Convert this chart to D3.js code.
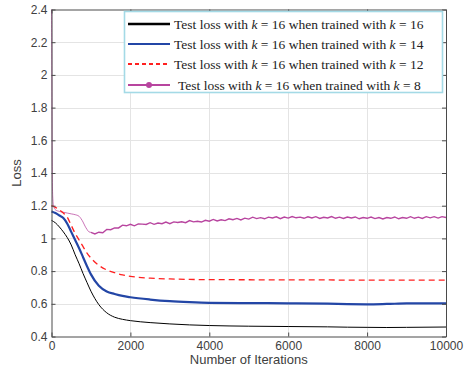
<!DOCTYPE html>
<html>
<head>
<meta charset="utf-8">
<script src="https://cdn.jsdelivr.net/npm/d3@7"></script>
<style>
  body { margin: 0; background: #fff; }
  svg { display: block; }
  .tick text { font-family: "Liberation Sans", Arial, sans-serif; font-size: 12px; fill: #404040; }
</style>
</head>
<body>
<div id="chart"></div>
<script>
const iterations = [0, 100, 200, 300, 400, 500, 600, 700, 800, 900, 1000, 1200, 1400, 1600, 1800, 2000,
  2500, 3000, 3500, 4000, 5000, 6000, 7000, 7500, 8000, 8500, 9000, 10000];
const lossK16 = [1.11, 1.095, 1.07, 1.04, 1.005, 0.96, 0.90, 0.845, 0.785, 0.73, 0.677, 0.595, 0.545, 0.518, 0.505, 0.497,
  0.485, 0.477, 0.471, 0.467, 0.463, 0.461, 0.459, 0.457, 0.456, 0.455, 0.456, 0.458];
const lossK14 = [1.165, 1.155, 1.14, 1.125, 1.09, 1.04, 0.99, 0.94, 0.885, 0.83, 0.78, 0.71, 0.675, 0.66, 0.648, 0.64,
  0.626, 0.616, 0.61, 0.606, 0.604, 0.603, 0.601, 0.598, 0.597, 0.599, 0.602, 0.603];
const lossK12 = [1.20, 1.19, 1.175, 1.155, 1.13, 1.08, 1.03, 0.99, 0.95, 0.91, 0.88, 0.835, 0.807, 0.79, 0.777, 0.768,
  0.757, 0.752, 0.749, 0.748, 0.747, 0.746, 0.746, 0.745, 0.745, 0.745, 0.745, 0.745];

// k = 8 run is noisy, so it's sampled more densely
const k8Iterations = [0, 5, 10, 15, 20, 30, 50, 100, 200, 300, 400, 500, 600, 700, 750, 800, 850, 900, 950,
  1000, 1100, 1200, 1300, 1400, 1500, 1600, 1700, 1800, 1900, 2000, 2100, 2200, 2300, 2400, 2500, 2600, 2700, 2800, 2900,
  3000, 3100, 3200, 3300, 3400, 3500, 3600, 3700, 3800, 3900, 4000, 4100, 4200, 4300, 4400, 4500, 4600, 4700, 4800, 4900,
  5000, 5100, 5200, 5300, 5400, 5500, 5600, 5700, 5800, 5900, 6000, 6100, 6200, 6300, 6400, 6500, 6600, 6700, 6800, 6900,
  7000, 7100, 7200, 7300, 7400, 7500, 7600, 7700, 7800, 7900, 8000, 8100, 8200, 8300, 8400, 8500, 8600, 8700, 8800, 8900,
  9000, 9100, 9200, 9300, 9400, 9500, 9600, 9700, 9800, 9900, 10000];
const lossK8 = [2.40, 2.2, 1.9, 1.6, 1.4, 1.26, 1.2, 1.175, 1.165, 1.16, 1.155, 1.15, 1.145, 1.135, 1.12, 1.10, 1.075, 1.055, 1.04,
  1.037, 1.027, 1.038, 1.035, 1.055, 1.053, 1.064, 1.064, 1.081, 1.077, 1.086, 1.077, 1.089, 1.087, 1.085, 1.096, 1.086, 1.094, 1.090, 1.100,
  1.090, 1.101, 1.097, 1.102, 1.096, 1.109, 1.101, 1.105, 1.100, 1.111, 1.105, 1.116, 1.107, 1.114, 1.109, 1.120, 1.114, 1.122, 1.113, 1.124,
  1.118, 1.130, 1.121, 1.127, 1.120, 1.130, 1.125, 1.132, 1.121, 1.131, 1.124, 1.134, 1.126, 1.130, 1.123, 1.132, 1.125, 1.133, 1.122, 1.129,
  1.125, 1.134, 1.123, 1.130, 1.122, 1.131, 1.125, 1.131, 1.120, 1.128, 1.123, 1.131, 1.121, 1.128, 1.119, 1.128, 1.123, 1.131, 1.120, 1.128,
  1.123, 1.133, 1.123, 1.130, 1.122, 1.133, 1.126, 1.133, 1.124, 1.133, 1.128];

const xTicks = [0, 2000, 4000, 6000, 8000, 10000];
const yTicks = [0.4, 0.6, 0.8, 1, 1.2, 1.4, 1.6, 1.8, 2, 2.2, 2.4];
const trainedK = [16, 14, 12, 8];
const colors = ['#000000', '#2346a6', '#ff2020', '#b8459f'];

const width = 466, height = 378;
const plot = { left: 51.5, right: 446, top: 9.5, bottom: 336.5 };

const svg = d3.select('#chart').append('svg')
  .attr('width', width)
  .attr('height', height);

const x = d3.scaleLinear().domain([0, 10000]).range([plot.left, plot.right]);
const y = d3.scaleLinear().domain([0.4, 2.4]).range([plot.bottom, plot.top]);

// grid
const grid = svg.append('g').attr('stroke', '#e4e4e4').attr('stroke-width', 1);
grid.selectAll('line.gx').data(xTicks.slice(1, -1)).enter().append('line')
  .attr('x1', d => Math.round(x(d)) + 0.5).attr('x2', d => Math.round(x(d)) + 0.5)
  .attr('y1', plot.top).attr('y2', plot.bottom);
grid.selectAll('line.gy').data(yTicks.slice(1, -1)).enter().append('line')
  .attr('y1', d => Math.round(y(d)) + 0.5).attr('y2', d => Math.round(y(d)) + 0.5)
  .attr('x1', plot.left).attr('x2', plot.right);

// curves
const line = (xs, ys, curve) => d3.line()
  .x((d, i) => x(xs[i]))
  .y(d => y(d))
  .curve(curve)(ys);

const curves = svg.append('g').attr('fill', 'none');

const k8Early = lossK8.filter((d, i) => k8Iterations[i] <= 1000);
const k8Late = lossK8.filter((d, i) => k8Iterations[i] >= 1000);
const k8LateIt = k8Iterations.filter(d => d >= 1000);
curves.append('path')
  .attr('d', line(k8Iterations, k8Early, d3.curveMonotoneX))
  .attr('stroke', colors[3]).attr('stroke-width', 1).attr('opacity', 0.75);
curves.append('path')
  .attr('d', line(k8LateIt, k8Late, d3.curveLinear))
  .attr('stroke', colors[3]).attr('stroke-width', 1.4);

curves.append('path')
  .attr('d', line(iterations, lossK12, d3.curveMonotoneX))
  .attr('stroke', colors[2]).attr('stroke-width', 1.3).attr('stroke-dasharray', '6,4');

curves.append('path')
  .attr('d', line(iterations, lossK14, d3.curveMonotoneX))
  .attr('stroke', colors[1]).attr('stroke-width', 2.2);

curves.append('path')
  .attr('d', line(iterations, lossK16, d3.curveMonotoneX))
  .attr('stroke', colors[0]).attr('stroke-width', 1);

// axes (box with inward ticks)
const axisColor = '#4a4a4a';
const styleAxis = g => {
  g.select('.domain').attr('stroke', axisColor);
  g.selectAll('.tick line').attr('stroke', axisColor);
};

svg.append('g')
  .attr('transform', `translate(0,${plot.bottom})`)
  .call(d3.axisBottom(x).tickValues(xTicks).tickFormat(d3.format('d')).tickSizeInner(-4).tickSizeOuter(0).tickPadding(5))
  .call(styleAxis);
svg.append('g')
  .attr('transform', `translate(${plot.left},0)`)
  .call(d3.axisLeft(y).tickValues(yTicks).tickFormat(d => d3.format('')(+d.toFixed(1))).tickSizeInner(-4).tickSizeOuter(0).tickPadding(4))
  .call(styleAxis);
svg.append('g')
  .attr('transform', `translate(0,${plot.top})`)
  .call(d3.axisTop(x).tickValues(xTicks).tickFormat('').tickSizeInner(-4).tickSizeOuter(0))
  .call(styleAxis);
svg.append('g')
  .attr('transform', `translate(${plot.right},0)`)
  .call(d3.axisRight(y).tickValues(yTicks).tickFormat('').tickSizeInner(-4).tickSizeOuter(0))
  .call(styleAxis);

// axis labels
svg.append('text')
  .attr('x', (plot.left + plot.right) / 2).attr('y', 364)
  .attr('text-anchor', 'middle')
  .style('font-family', '"Liberation Sans", Arial, sans-serif').style('font-size', '13px').style('fill', '#404040')
  .text('Number of Iterations');
svg.append('text')
  .attr('transform', `translate(21,${(plot.top + plot.bottom) / 2}) rotate(-90)`)
  .attr('text-anchor', 'middle')
  .style('font-family', '"Liberation Sans", Arial, sans-serif').style('font-size', '13px').style('fill', '#404040')
  .text('Loss');

// legend
const legend = svg.append('g');
legend.append('rect')
  .attr('x', 124.5).attr('y', 11.5).attr('width', 318).attr('height', 81)
  .attr('fill', '#fff').attr('stroke', '#a4dae6').attr('stroke-width', 1.6);

const rowY = [24, 44, 64, 85];
const sampleStyle = [
  { w: 2.6, dash: null },
  { w: 2.2, dash: null },
  { w: 2, dash: '4,3' },
  { w: 2, dash: null }
];
trainedK.forEach((k, i) => {
  const row = legend.append('g');
  row.append('line')
    .attr('x1', 128).attr('x2', 170).attr('y1', rowY[i]).attr('y2', rowY[i])
    .attr('stroke', colors[i]).attr('stroke-width', sampleStyle[i].w)
    .attr('stroke-dasharray', sampleStyle[i].dash);
  if (i === 3) {
    row.append('circle').attr('cx', 149).attr('cy', rowY[i]).attr('r', 3).attr('fill', colors[i]);
  }
  const t = row.append('text')
    .attr('x', i === 3 ? 178 : 174).attr('y', rowY[i] + 4.5)
    .style('font-family', '"Liberation Serif", "Times New Roman", serif').style('font-size', '13.5px').style('fill', '#222');
  t.append('tspan').text('Test loss with ');
  t.append('tspan').style('font-style', 'italic').text('k');
  t.append('tspan').text(' = 16 when trained with ');
  t.append('tspan').style('font-style', 'italic').text('k');
  t.append('tspan').text(` = ${k}`);
});
</script>
</body>
</html>
